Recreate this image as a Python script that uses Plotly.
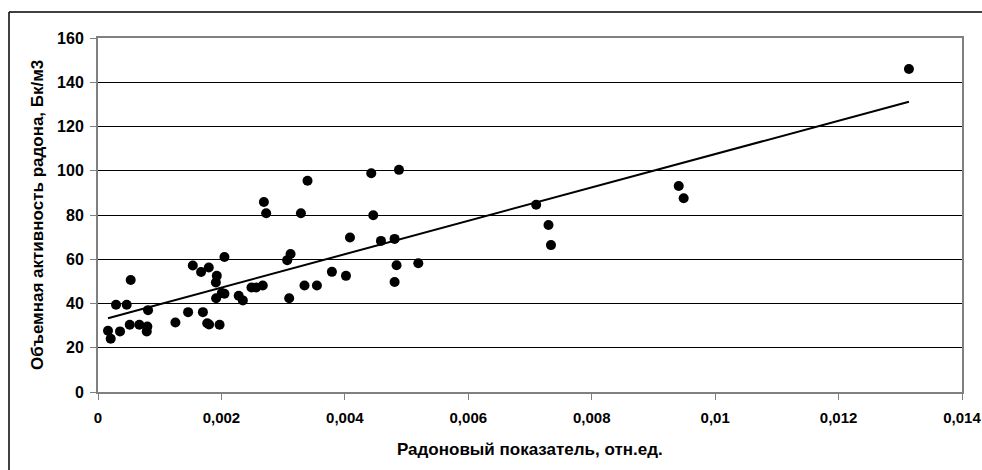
import numpy as np
import plotly.graph_objects as go

# Радоновый показатель, отн.ед.
radon_index = [
    0.000162, 0.000206, 0.000292, 0.000357, 0.000465, 0.000530, 0.000514, 0.00067,
    0.000811, 0.00080, 0.00079, 0.001254, 0.00146, 0.001536, 0.00167, 0.001795,
    0.00170, 0.00177, 0.00180, 0.00197, 0.001925, 0.00191, 0.001914, 0.002006,
    0.002049, 0.002049, 0.00228, 0.002347, 0.002487, 0.002563, 0.00267, 0.002688,
    0.002725, 0.003066, 0.00312, 0.003098, 0.003288, 0.003395, 0.003346, 0.003547,
    0.00379, 0.004018, 0.004083, 0.004428, 0.004877, 0.00446, 0.004585, 0.004806,
    0.004838, 0.004806, 0.00519, 0.00710, 0.00730, 0.00734, 0.00941, 0.00949,
    0.01314,
]
# Объемная активность радона, Бк/м3
radon_activity = [
    27.7, 24.1, 39.4, 27.4, 39.4, 50.6, 30.4, 30.4,
    37.0, 29.6, 27.4, 31.4, 36.1, 57.2, 54.2, 56.3,
    36.1, 31.1, 30.5, 30.4, 52.5, 49.5, 42.4, 44.7,
    44.4, 61.0, 43.5, 41.4, 47.2, 47.2, 48.1, 85.9,
    80.8, 59.6, 62.4, 42.4, 80.8, 95.5, 48.1, 48.1,
    54.3, 52.5, 69.8, 98.9, 100.4, 79.9, 68.3, 69.2,
    57.3, 49.7, 58.2, 84.6, 75.5, 66.4, 93.1, 87.6,
    146.0,
]

x_ticks = [0, 0.002, 0.004, 0.006, 0.008, 0.01, 0.012, 0.014]
x_tick_labels = ["0", "0,002", "0,004", "0,006", "0,008", "0,01", "0,012", "0,014"]
y_ticks = [0, 20, 40, 60, 80, 100, 120, 140, 160]
x_title = "Радоновый показатель, отн.ед."
y_title = "Объемная активность радона, Бк/м3"

x_arr = np.array(radon_index)
y_arr = np.array(radon_activity)
slope, intercept = np.polyfit(x_arr, y_arr, 1)
trend_x = [float(x_arr.min()), float(x_arr.max())]
trend_y = [intercept + slope * v for v in trend_x]

font_family = "Liberation Sans, Arial, sans-serif"

# plot area in pixels
L, R, T, B = 98, 962, 38, 392
PW, PH = R - L, B - T

def px(xp):
    return (xp - L) / PW

def py(yp):
    return (B - yp) / PH

fig = go.Figure()
fig.add_trace(go.Scatter(
    x=trend_x, y=trend_y, mode="lines",
    line=dict(color="black", width=2), showlegend=False, hoverinfo="skip",
))
fig.add_trace(go.Scatter(
    x=radon_index, y=radon_activity, mode="markers",
    marker=dict(color="black", size=10, line=dict(width=0)), showlegend=False,
))

fig.update_layout(
    width=982, height=470,
    margin=dict(l=L, r=982 - R, t=T, b=470 - B),
    paper_bgcolor="white", plot_bgcolor="white",
    font=dict(family=font_family, size=16, color="black"),
    separators=", ",
    xaxis=dict(
        range=[0, 0.014], tickvals=x_ticks, ticktext=x_tick_labels,
        showgrid=False, zeroline=False, automargin=False,
        showline=True, linecolor="#808080", linewidth=2, mirror=True,
        ticks="outside", ticklen=6, tickcolor="#808080", tickwidth=1,
        ticklabelstandoff=5, ticklabeloverflow="allow",
        tickfont=dict(family=font_family, size=15, color="black", weight="bold"),
    ),
    yaxis=dict(
        range=[0, 160], tickvals=y_ticks,
        showgrid=True, gridcolor="black", gridwidth=1, zeroline=False, automargin=False,
        showline=True, linecolor="#808080", linewidth=2, mirror=True,
        ticks="outside", ticklen=6, tickcolor="#808080", tickwidth=1,
        ticklabelstandoff=3, ticklabeloverflow="allow",
        tickfont=dict(family=font_family, size=16, color="black", weight="bold"),
    ),
    annotations=[
        dict(text="<b>" + x_title + "</b>", xref="paper", yref="paper",
             x=0.5, y=py(449), xanchor="center", yanchor="middle", showarrow=False,
             font=dict(family=font_family, size=17, color="black")),
        dict(text="<b>" + y_title + "</b>", xref="paper", yref="paper",
             x=px(37), y=0.5, xanchor="center", yanchor="middle", showarrow=False,
             textangle=-90, font=dict(family=font_family, size=17, color="black")),
    ],
    shapes=[
        dict(type="line", xref="paper", yref="paper",
             x0=px(9), x1=px(9), y0=py(12), y1=py(480),
             line=dict(color="black", width=1.5)),
        dict(type="line", xref="paper", yref="paper",
             x0=px(9), x1=px(995), y0=py(12), y1=py(12),
             line=dict(color="black", width=1.5)),
    ],
)

fig.write_html(
    "out.html",
    config={"displayModeBar": False},
    post_script="document.body.style.margin='0';document.body.style.overflow='hidden';",
)
